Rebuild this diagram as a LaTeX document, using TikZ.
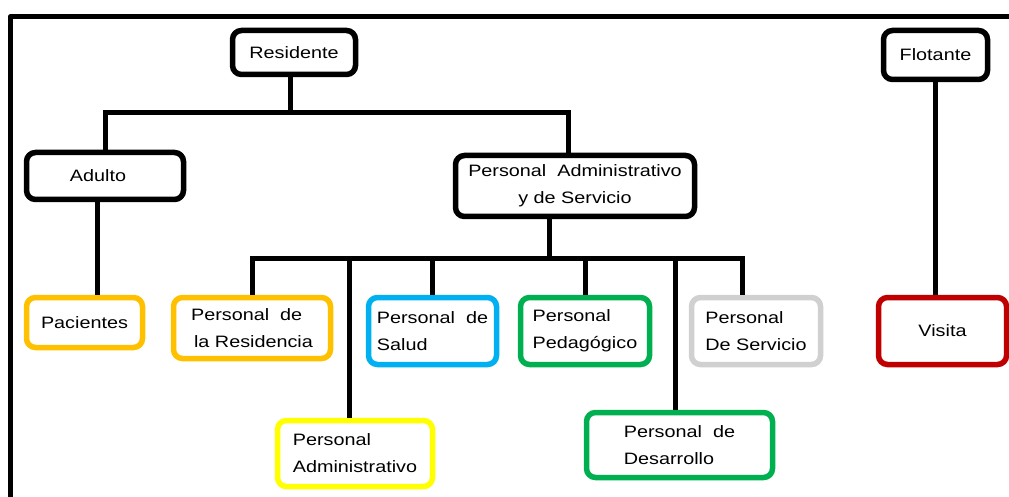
\documentclass[tikz,border=0pt]{standalone}
\usepackage{fontspec}
\setmainfont{Liberation Sans}[FakeStretch=1.2]
\usepackage{tikz}
\definecolor{naranja}{HTML}{FFC000}
\definecolor{celeste}{HTML}{00B0F0}
\definecolor{verde}{HTML}{00B050}
\definecolor{gris}{HTML}{D0D0D0}
\definecolor{rojo}{HTML}{C00000}
\definecolor{amarillo}{HTML}{FFFF00}
\tikzset{caja/.style={draw=#1,line width=5.5pt,rounded corners=9pt,fill=white,
  inner sep=0pt,align=left,font=\fontsize{16.5}{27}\selectfont},
  caja/.default=black,
  linea/.style={line width=5pt}}
\begin{document}
\begin{tikzpicture}[x=1pt,y=-1pt]
\useasboundingbox (0,0) rectangle (1009,497);
\draw[linea,line join=round](10,505)--(10,17)--(1015,17);
\node[caja,minimum width=123,minimum height=44] (res) at (294,52.5) {Residente};
\node[caja,minimum width=104,minimum height=49] (flo) at (935.5,55) {Flotante};
\node[caja,minimum width=157,minimum height=47] (adulto) at (105,176) {\hspace{-14pt}Adulto};
\node[caja,align=center,minimum width=239,minimum height=61] (pas) at (575,186)
  {Personal\ \ Administrativo\\y de Servicio};
\node[caja=naranja,minimum width=116,minimum height=50] (pac) at (84.5,322.5) {Pacientes};
\node[caja=naranja,minimum width=157,minimum height=61] (resid) at (252,328)
  {Personal\ \ de\\\hspace{3pt}la Residencia};
\node[caja=celeste,minimum width=128,minimum height=67] (salud) at (432.5,331)
  {Personal\ \ de\\Salud};
\node[caja=verde,minimum width=129,minimum height=67] (ped) at (585,331)
  {Personal\\Pedagógico};
\node[caja=gris,minimum width=129,minimum height=67] (serv) at (756,331)
  {Personal\\De Servicio};
\node[caja=rojo,minimum width=128,minimum height=67] (vis) at (942.5,331) {Visita};
\node[caja=amarillo,minimum width=155,minimum height=66] (admin) at (355,453.5)
  {Personal\\Administrativo};
\node[caja=verde,minimum width=186,minimum height=65] (des) at (679.5,445)
  {Personal\ \ de\\Desarrollo};
\coordinate (topbus) at (290,113);
\coordinate (lowbus) at (549,258);
\coordinate (busend) at (742,258);
\draw[linea](res.south -| topbus)--(topbus);
\draw[linea](adulto.north) |- (topbus) -| ([xshift=-7pt]pas.north);
\draw[linea](pas.south -| lowbus)--(lowbus);
\draw[linea](resid.north) |- (busend)--(serv.north -| busend);
\foreach \n/\d in {admin/-6,salud/0,ped/0,des/-4}
  \draw[linea]([xshift=\d pt]\n.north)--([xshift=\d pt]\n.north |- lowbus);
\draw[linea]([xshift=13pt]pac.north)--([xshift=13pt]pac.north |- adulto.south);
\draw[linea](flo.south)--(flo.south |- vis.north);
\end{tikzpicture}
\end{document}
